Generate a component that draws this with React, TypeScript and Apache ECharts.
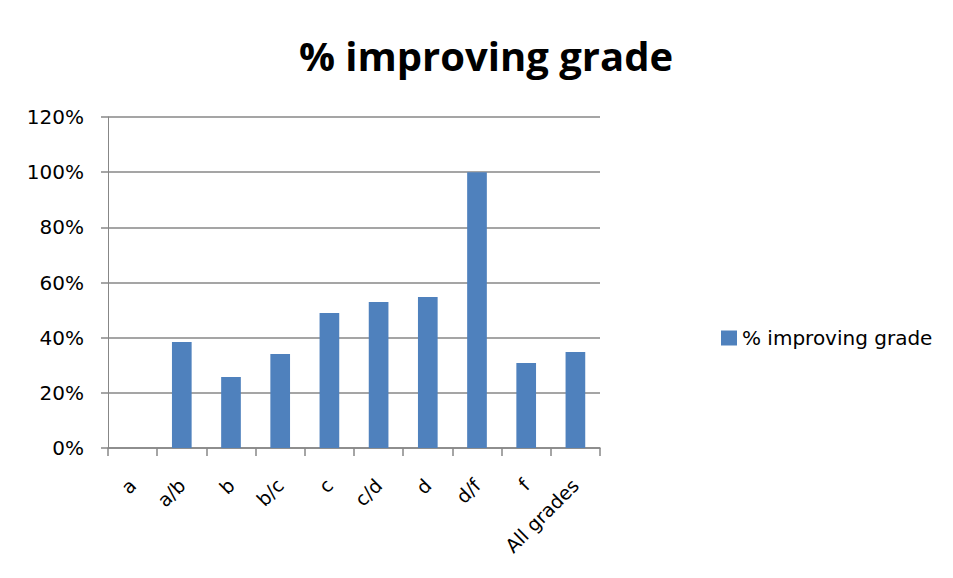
import React, { useEffect, useRef } from "react";
import * as echarts from "echarts";

const categories = ["a", "a/b", "b", "b/c", "c", "c/d", "d", "d/f", "f", "All grades"];
const improvingPct = [0, 38.4, 25.7, 34.1, 48.9, 52.9, 54.7, 100, 30.8, 34.8];
const seriesName = "% improving grade";
const yTicks = { min: 0, max: 120, interval: 20 };

const TITLE_FONT = "'Open Sans', Lato, sans-serif";
const FONT = "'DejaVu Sans', 'Open Sans', sans-serif";
const AXIS_GRAY = "#878787";

export default function App() {
  const ref = useRef<HTMLDivElement>(null);

  useEffect(() => {
    if (!ref.current) return;
    const chart = echarts.init(ref.current, undefined, { renderer: "svg" });
    chart.setOption({
      animation: false,
      backgroundColor: "#ffffff",
      title: {
        text: seriesName,
        left: 481,
        top: 30,
        textAlign: "center",
        textStyle: { fontFamily: TITLE_FONT, fontWeight: "bold", fontSize: 40, color: "#000" },
      },
      // outer chart-area frame
      graphic: {
        elements: [
          { type: "line", silent: true, z: 50, shape: { x1: 7, y1: 4, x2: 7, y2: 578 }, style: { stroke: AXIS_GRAY, lineWidth: 2 } },
          { type: "line", silent: true, z: 50, shape: { x1: 7, y1: 4, x2: 947, y2: 4 }, style: { stroke: AXIS_GRAY, lineWidth: 2 } },
          { type: "line", silent: true, z: 50, shape: { x1: 947, y1: 4, x2: 947, y2: 578 }, style: { stroke: AXIS_GRAY, lineWidth: 2 } },
        ],
      },
      legend: {
        show: true,
        left: 716,
        top: 323,
        itemWidth: 16,
        itemHeight: 15,
        itemGap: 6,
        icon: "rect",
        textStyle: { fontFamily: FONT, fontSize: 20, color: "#000" },
        data: [seriesName],
      },
      grid: { left: 108, right: 353, top: 117, bottom: 130, containLabel: false },
      xAxis: {
        type: "category",
        data: categories,
        axisLine: { show: true, lineStyle: { color: AXIS_GRAY, width: 1.5 } },
        axisTick: { show: true, alignWithLabel: false, length: 8, lineStyle: { color: AXIS_GRAY, width: 1.5 } },
        axisLabel: {
          rotate: 45,
          interval: 0,
          margin: 34,
          fontFamily: FONT,
          fontSize: 19,
          color: "#000",
        },
      },
      yAxis: {
        type: "value",
        min: yTicks.min,
        max: yTicks.max,
        interval: yTicks.interval,
        axisLine: { show: true, lineStyle: { color: AXIS_GRAY, width: 1 } },
        axisTick: { show: true, inside: false, length: 7, lineStyle: { color: AXIS_GRAY, width: 1.5 } },
        splitLine: { show: true, lineStyle: { color: AXIS_GRAY, width: 1.5 } },
        axisLabel: {
          formatter: (v: number) => `${v}%`,
          margin: 24,
          fontFamily: FONT,
          fontSize: 20,
          color: "#000",
        },
      },
      series: [
        {
          name: seriesName,
          type: "bar",
          data: improvingPct,
          barWidth: "40%",
          itemStyle: { color: "#4f81bd" },
        },
      ],
    });
    return () => chart.dispose();
  }, []);

  return <div ref={ref} style={{ width: 953, height: 578, margin: -8 }} />;
}
